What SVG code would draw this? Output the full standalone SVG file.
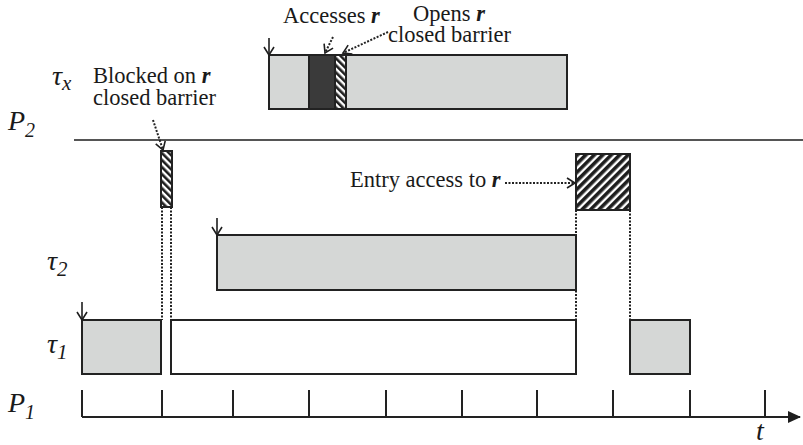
<svg xmlns="http://www.w3.org/2000/svg" width="803" height="445" viewBox="0 0 803 445">
<defs>
<pattern id="hatchF" patternUnits="userSpaceOnUse" width="6" height="6" patternTransform="rotate(45)">
<rect width="6" height="6" fill="#fff"/>
<rect width="3.6" height="6" fill="#1e1e1e"/>
</pattern>
<pattern id="hatchB" patternUnits="userSpaceOnUse" width="5" height="5" patternTransform="rotate(-45)">
<rect width="5" height="5" fill="#fff"/>
<rect width="2.6" height="5" fill="#1e1e1e"/>
</pattern>
<marker id="vhead" markerWidth="12" markerHeight="12" refX="10" refY="6" orient="auto" markerUnits="userSpaceOnUse">
<path d="M2,1 L10,6 L2,11" fill="none" stroke="#1e1e1e" stroke-width="1.6"/>
</marker>
<marker id="tri" markerWidth="14" markerHeight="12" refX="12" refY="6" orient="auto" markerUnits="userSpaceOnUse">
<path d="M0,0 L13,6 L0,12 Z" fill="#1e1e1e"/>
</marker>
</defs>

<g id="labels" fill="#1a1a1a">
<text x="52" y="85" font-family="'Liberation Serif', serif" font-style="italic" font-size="28">τ<tspan font-size="21" dy="5">x</tspan></text>
<text x="8" y="130" font-family="'Liberation Serif', serif" font-style="italic" font-size="28">P<tspan font-size="20" dy="7">2</tspan></text>
<text x="47" y="270" font-family="'Liberation Serif', serif" font-style="italic" font-size="28">τ<tspan font-size="21" dy="6">2</tspan></text>
<text x="47" y="353" font-family="'Liberation Serif', serif" font-style="italic" font-size="28">τ<tspan font-size="21" dy="6">1</tspan></text>
<text x="8" y="412" font-family="'Liberation Serif', serif" font-style="italic" font-size="28">P<tspan font-size="20" dy="7">1</tspan></text>
<text x="756" y="440" font-family="'Liberation Serif', serif" font-style="italic" font-size="28">t</text>
</g>

<g id="p2line">
<line x1="74" y1="140" x2="803" y2="140" stroke="#555" stroke-width="2"/>
</g>

<g id="taux" stroke="#222" stroke-width="2">
<rect fill="#d5d7d6" x="269" y="55" width="298" height="54"/>
<rect fill="#3a3a3a" x="309" y="55" width="26" height="54"/>
<rect fill="url(#hatchB)" x="335" y="55" width="11" height="54"/>
<line x1="269" y1="38" x2="269" y2="55" stroke="#1e1e1e" stroke-width="1.6" marker-end="url(#vhead)"/>
</g>

<g id="blocked" stroke="#222" stroke-width="2">
<rect fill="url(#hatchB)" x="161" y="151" width="11" height="56"/>
</g>

<g id="entry" stroke="#222" stroke-width="2">
<rect fill="url(#hatchF)" x="576" y="154" width="54" height="56"/>
</g>

<g id="tau2" stroke="#222" stroke-width="2">
<rect fill="#d5d7d6" x="217" y="235" width="359" height="55"/>
<line x1="217" y1="218" x2="217" y2="235" stroke="#1e1e1e" stroke-width="1.6" marker-end="url(#vhead)"/>
</g>

<g id="tau1" stroke="#222" stroke-width="2">
<rect fill="#d5d7d6" x="82" y="320" width="79" height="54"/>
<rect fill="#fff" x="171" y="320" width="405" height="54"/>
<rect fill="#d5d7d6" x="630" y="320" width="60" height="54"/>
<line x1="82" y1="302" x2="82" y2="320" stroke="#1e1e1e" stroke-width="1.6" marker-end="url(#vhead)"/>
</g>

<g id="texts" fill="#1a1a1a">
<text x="283" y="23" font-family="'Liberation Serif', serif" font-size="22.5">Accesses <tspan font-style="italic" font-weight="bold">r</tspan></text>
<text x="413" y="21" font-family="'Liberation Serif', serif" font-size="22.5">Opens <tspan font-style="italic" font-weight="bold">r</tspan><tspan x="388" dy="21">closed barrier</tspan></text>
<text x="93" y="83" font-family="'Liberation Serif', serif" font-size="22.5">Blocked on <tspan font-style="italic" font-weight="bold">r</tspan><tspan x="93" dy="22">closed barrier</tspan></text>
<text x="350" y="187" font-family="'Liberation Serif', serif" font-size="22.5">Entry access to <tspan font-style="italic" font-weight="bold">r</tspan></text>
</g>

<g id="connectors" stroke="#222" stroke-width="2" stroke-dasharray="2 1.5" fill="none">
<path d="M333,37 L325,53" marker-end="url(#vhead)"/>
<path d="M388,32 L343,53" marker-end="url(#vhead)"/>
<path d="M153,120 L163,150" marker-end="url(#vhead)"/>
<path d="M505,183 L575,183" marker-end="url(#vhead)"/>
<path d="M162,207 V320"/>
<path d="M171,207 V320"/>
<path d="M576,210 V320"/>
<path d="M630,210 V320"/>
</g>

<g id="axis" stroke="#222" stroke-width="2" fill="none">
<line x1="82" y1="417" x2="800" y2="417" marker-end="url(#tri)"/>
<path d="M82,390V417 M162,390V417 M233,390V417 M309,390V417 M386,390V417 M462,390V417 M537,390V417 M613,390V417 M690,390V417 M765,390V417"/>
</g>
</svg>
